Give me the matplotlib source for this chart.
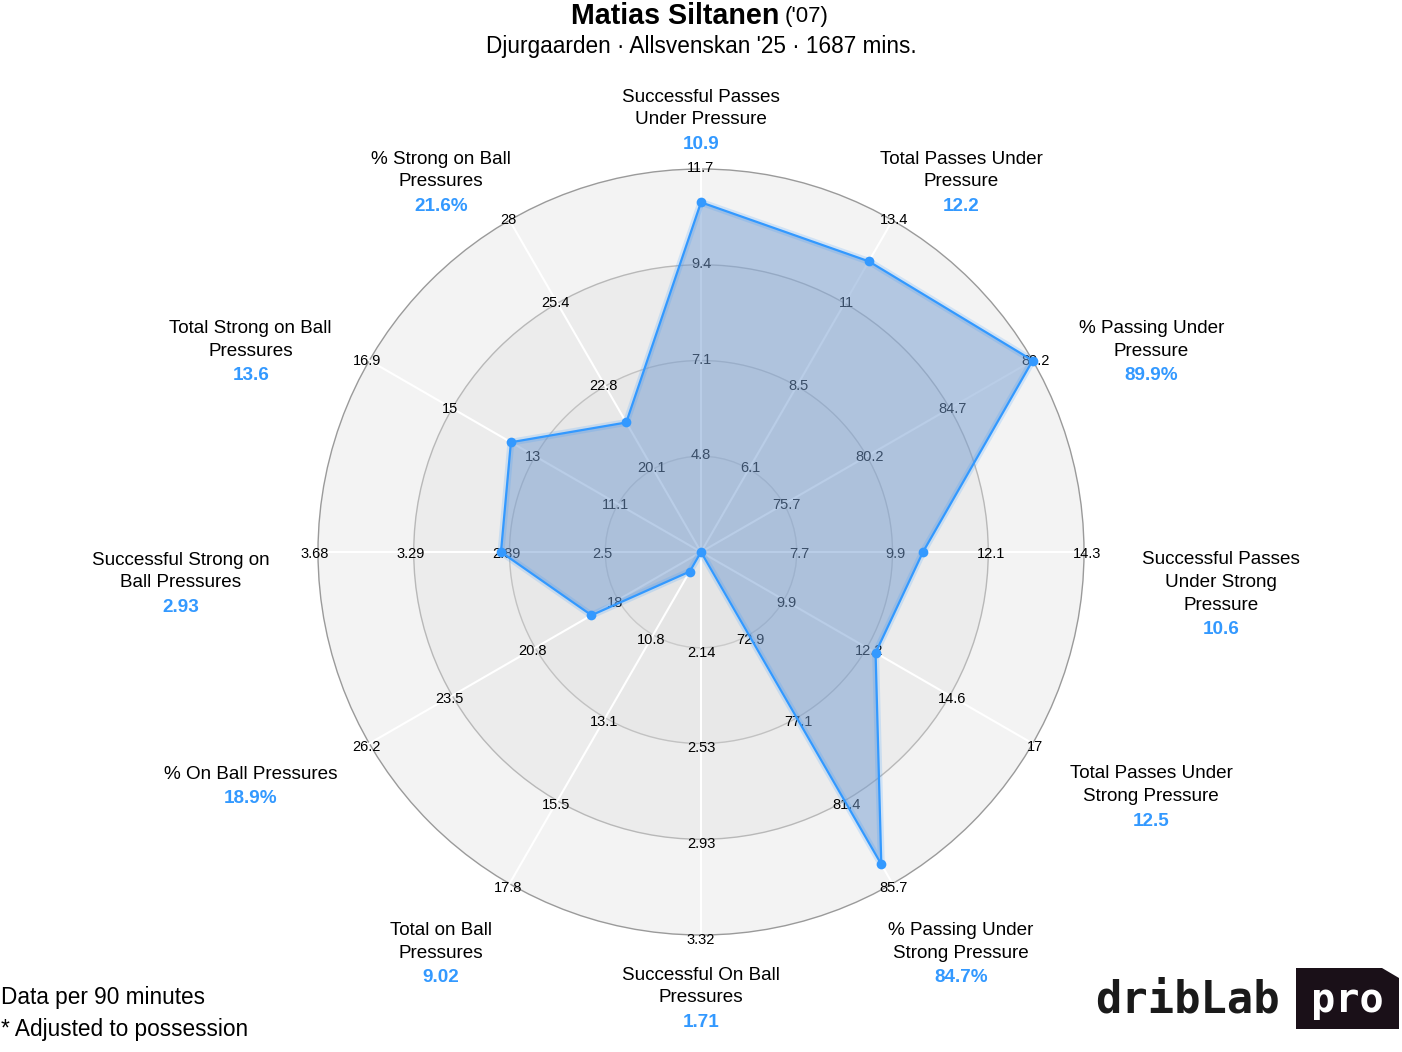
import numpy as np
import matplotlib.pyplot as plt
from matplotlib.patches import Circle, Polygon

plt.rcParams['font.family'] = ['Liberation Sans', 'DejaVu Sans']

# axis names, clockwise from the top
labels = [
    "Successful Passes\nUnder Pressure",
    "Total Passes Under\nPressure",
    "% Passing Under\nPressure",
    "Successful Passes\nUnder Strong\nPressure",
    "Total Passes Under\nStrong Pressure",
    "% Passing Under\nStrong Pressure",
    "Successful On Ball\nPressures",
    "Total on Ball\nPressures",
    "% On Ball Pressures",
    "Successful Strong on\nBall Pressures",
    "Total Strong on Ball\nPressures",
    "% Strong on Ball\nPressures",
]
values = [10.9, 12.2, 89.9, 10.6, 12.5, 84.7, 1.71, 9.02, 18.9, 2.93, 13.6, 21.6]
value_text = ["10.9", "12.2", "89.9%", "10.6", "12.5", "84.7%",
              "1.71", "9.02", "18.9%", "2.93", "13.6", "21.6%"]

# per-axis scale: value at the centre and at the outer ring
axis_min = [2.5, 3.7, 71.2, 5.5, 7.5, 68.6, 1.75, 8.47, 15.3, 2.11, 9.17, 17.5]
axis_max = [11.7, 13.4, 89.2, 14.3, 17.0, 85.7, 3.32, 17.8, 26.2, 3.68, 16.9, 28.0]

# ring labels on each spoke (inner -> outer)
ring_ticks = [
    ["4.8", "7.1", "9.4", "11.7"],
    ["6.1", "8.5", "11", "13.4"],
    ["75.7", "80.2", "84.7", "89.2"],
    ["7.7", "9.9", "12.1", "14.3"],
    ["9.9", "12.2", "14.6", "17"],
    ["72.9", "77.1", "81.4", "85.7"],
    ["2.14", "2.53", "2.93", "3.32"],
    ["10.8", "13.1", "15.5", "17.8"],
    ["18", "20.8", "23.5", "26.2"],
    ["2.5", "2.89", "3.29", "3.68"],
    ["11.1", "13", "15", "16.9"],
    ["20.1", "22.8", "25.4", "28"],
]

BLUE = '#3399ff'
W, H = 1402, 1052
cx, cy, R = 701, 552, 383

fig = plt.figure(figsize=(W / 100, H / 100), dpi=100)
ax = fig.add_axes([0, 0, 1, 1])
ax.set_xlim(0, W)
ax.set_ylim(H, 0)
ax.set_aspect('equal')
ax.axis('off')

n = len(labels)
theta = np.arange(n) * 2 * np.pi / n
sx, sy = np.sin(theta), -np.cos(theta)

# background bands
band_cols = ['#f3f3f3', '#ececec', '#e8e8e8', '#e5e5e5']
edge_cols = ['#9a9a9a', '#b8b8b8', '#c2c2c2', '#cacaca']
for k in range(4):
    r = R * (4 - k) / 4
    ax.add_patch(Circle((cx, cy), r, facecolor=band_cols[k], edgecolor=edge_cols[k],
                        lw=1.0, zorder=1))

# spokes
for i in range(n):
    ax.plot([cx, cx + R * sx[i]], [cy, cy + R * sy[i]], color='white', lw=1.5, zorder=2)

# ring labels
for i in range(n):
    for k in range(4):
        r = R * (k + 1) / 4 + 3
        ax.text(cx + r * sx[i], cy + r * sy[i] + 2, ring_ticks[i][k], fontsize=10.5,
                ha='center', va='center', color='black', zorder=3)

# player polygon
norm = np.clip((np.array(values) - np.array(axis_min)) /
               (np.array(axis_max) - np.array(axis_min)), 0, 1)
px = cx + norm * R * sx
py = cy + norm * R * sy
ax.add_patch(Polygon(np.column_stack([px, py]), closed=True, facecolor='#749cd0',
                     alpha=0.5, edgecolor='none', zorder=4))
xs = np.append(px, px[0])
ys = np.append(py, py[0])
ax.plot(xs, ys, color=BLUE, lw=5, alpha=0.18, zorder=5, solid_joinstyle='round')
ax.plot(xs, ys, color=BLUE, lw=1.6, zorder=6)
ax.plot(px, py, 'o', color=BLUE, ms=7, mec='none', zorder=7)

# axis names and values
for i in range(n):
    c = np.cos(theta[i])
    lx = cx + 520 * sx[i]
    ly = cy + 8 - (463 if c > 0 else 428) * c
    ly = min(ly, 975)
    lines = labels[i].split('\n')
    for j, line in enumerate(lines):
        ax.text(lx, ly + j * 22.7, line, fontsize=13.6, ha='center', va='center',
                color='black')
    ax.text(lx, ly + (len(lines) - 1) * 22.7 + 24.5, value_text[i], fontsize=13.6,
            ha='center', va='center', color=BLUE, fontweight='bold')

# title
ax.text(779, 24, "Matias Siltanen", fontsize=20.6, fontweight='bold', ha='right',
        va='baseline')
ax.text(785, 22, "('07)", fontsize=16, ha='left', va='baseline')
ax.text(701, 53, "Djurgaarden \u00b7 Allsvenskan '25 \u00b7 1687 mins.", fontsize=16.3,
        ha='center', va='baseline')

# footer
ax.text(1, 1004, "Data per 90 minutes", fontsize=16.3, ha='left', va='baseline')
ax.text(1, 1036, "* Adjusted to possession", fontsize=16.3, ha='left', va='baseline')

# logo
ax.text(1187, 1000, "dribLab", fontsize=31.5, family='DejaVu Sans Mono', fontweight='bold',
        ha='center', va='center', color='#1a1a1a')
ax.add_patch(Polygon([(1296, 968), (1382, 968), (1399, 978), (1399, 1029), (1296, 1029)],
                     closed=True, facecolor='#1a1018', edgecolor='none'))
ax.text(1347, 1000, "pro", fontsize=29, family='DejaVu Sans Mono', fontweight='bold',
        ha='center', va='center', color='white')

fig.savefig('out.png', dpi=100)
